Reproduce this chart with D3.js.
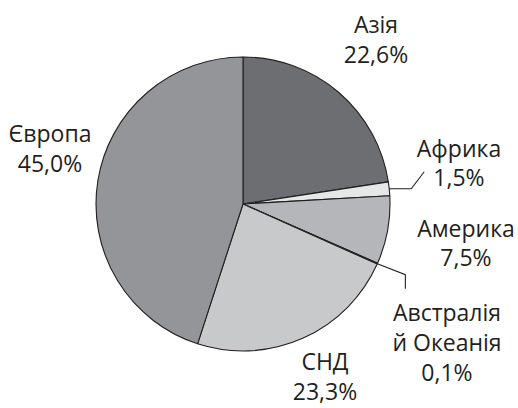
<!DOCTYPE html>
<html><head><meta charset="utf-8">
<script src="https://cdn.jsdelivr.net/npm/d3@7"></script>
<style>body{margin:0;background:#fff}svg{display:block}text{font-family:"Open Sans",sans-serif;font-size:23px;fill:#231f20}</style>
</head><body>
<script>
const regions = ["Азія","Африка","Америка","Австралія й Океанія","СНД","Європа"];
const shares = [22.6, 1.5, 7.5, 0.1, 23.3, 45.0];
const shareLabels = ["22,6%","1,5%","7,5%","0,1%","23,3%","45,0%"];
const labelLines = [["Азія"],["Африка"],["Америка"],["Австралія","й Океанія"],["СНД"],["Європа"]];
const colors = ["#6d6e71","#e6e7e8","#b4b6b9","#58595b","#c8c9cb","#939598"];

const W = 518, H = 408, cx = 243, cy = 204, R = 147;
const svg = d3.select("body").append("svg").attr("width", W).attr("height", H);
const g = svg.append("g").attr("transform", `translate(${cx},${cy})`);

const data = regions.map((r,i)=>({name:r, value:shares[i], label:shareLabels[i], lines:labelLines[i], color:colors[i]}));
const pie = d3.pie().value(d=>d.value).sort(null);
const arc = d3.arc().innerRadius(0).outerRadius(R);
const arcs = pie(data);

g.selectAll("path.slice").data(arcs).join("path")
  .attr("class","slice")
  .attr("d", arc)
  .attr("fill", d=>d.data.color)
  .attr("stroke","#231f20").attr("stroke-width",1.1).attr("stroke-linejoin","round");

// label layout (centre x, first baseline y, line spacing)
const labelPos = {
  "Азія": [376, 33, 30],
  "Африка": [459, 157, 29],
  "Америка": [466, 237, 29],
  "Австралія й Океанія": [447, 321, 30],
  "СНД": [325, 370, 30],
  "Європа": [50, 142, 30]
};
data.forEach(d=>{
  const [x,y,lh] = labelPos[d.name];
  const t = svg.append("text").attr("text-anchor","middle");
  const all = d.lines.concat([d.label]);
  all.forEach((s,k)=>t.append("tspan").attr("x",x).attr("y",y+k*lh).text(s));
});

// leader lines
function edge(a){const m=(a.startAngle+a.endAngle)/2;return [cx+R*Math.sin(m), cy-R*Math.cos(m)];}
const line = d3.line();
const af = arcs[1], au = arcs[3];
const [ax, ay] = edge(af);
svg.append("path").attr("d", line([[ax,ay],[ax+22,ay],[ax+35,ay-17]]))
  .attr("fill","none").attr("stroke","#231f20").attr("stroke-width",1.1);
const [bx, by] = edge(au);
svg.append("path").attr("d", line([[bx,by],[bx+28,by+11],[bx+28,by+25]]))
  .attr("fill","none").attr("stroke","#231f20").attr("stroke-width",1.1);
</script>
</body></html>
